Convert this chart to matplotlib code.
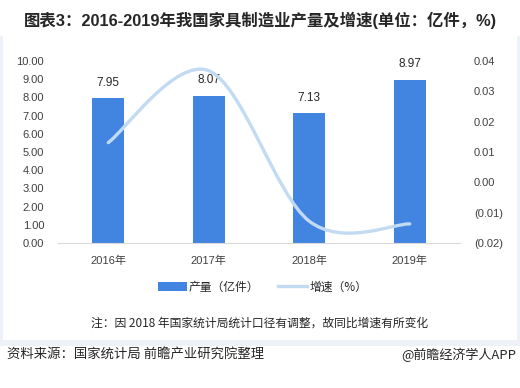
import matplotlib
matplotlib.use("Agg")
import matplotlib.pyplot as plt
from matplotlib.patches import Rectangle, Patch
from matplotlib.lines import Line2D
from matplotlib.path import Path
from matplotlib.patches import PathPatch
from matplotlib.ticker import FuncFormatter, MultipleLocator

categories = ["2016年", "2017年", "2018年", "2019年"]
output_values = [7.95, 8.07, 7.13, 8.97]
growth_values = [0.0131, 0.0368, -0.0128, -0.0137]

title = "图表3：2016-2019年我国家具制造业产量及增速(单位：亿件，%)"
legend_labels = ["产量（亿件）", "增速（%）"]
note = "注：因 2018 年国家统计局统计口径有调整，故同比增速有所变化"
source = "资料来源：国家统计局 前瞻产业研究院整理"
credit = "@前瞻经济学人APP"

BAR_COLOR = "#4285E0"
LINE_COLOR = "#C3DAF3"
FAM = ["Liberation Sans", "Noto Sans CJK SC"]
CJK = ["Noto Sans CJK SC", "DejaVu Sans"]

plt.rcParams["font.family"] = FAM

W, H = 520, 388
fig = plt.figure(figsize=(W / 100, H / 100), dpi=100)
fig.patch.set_facecolor("white")

# panel frame
fig.add_artist(Rectangle((0, 1 - 346 / H), 1, (346 - 36) / H, transform=fig.transFigure,
                         facecolor="#EDF1F8", edgecolor="none", zorder=-10))
fig.add_artist(Rectangle((3 / W, 1 - 340 / H), 514 / W, (340 - 36) / H, transform=fig.transFigure,
                         facecolor="white", edgecolor="none", zorder=-9))

ax = fig.add_axes([58 / W, 1 - 243 / H, (460 - 58) / W, (243 - 61) / H])
ax.set_facecolor("none")
x = list(range(len(categories)))
bars = ax.bar(x, output_values, width=0.32, color=BAR_COLOR, zorder=2)
ax.set_xlim(-0.5, len(categories) - 0.5)
ax.set_ylim(0, 10)
ax.yaxis.set_major_locator(MultipleLocator(1))
ax.yaxis.set_major_formatter(FuncFormatter(lambda v, p: f"{v:.2f}"))
for s in ["top", "right", "left"]:
    ax.spines[s].set_visible(False)
ax.spines["bottom"].set_color("#D9D9D9")
ax.spines["bottom"].set_linewidth(0.8)
ax.tick_params(axis="both", length=0, labelsize=8, colors="#404040")
ax.tick_params(axis="y", pad=10)
ax.tick_params(axis="x", pad=9)
ax.set_xticks(x)
ax.set_xticklabels(categories)
for lbl in ax.get_xticklabels():
    lbl.set_fontfamily(FAM)

for xi, v in zip(x, output_values):
    ax.annotate(f"{v:.2f}", (xi, v), xytext=(0, 7), textcoords="offset points",
                ha="center", va="bottom", fontsize=8.5, color="#262626")

ax2 = ax.twinx()
ax2.set_ylim(-0.02, 0.04)
ax2.yaxis.set_major_locator(MultipleLocator(0.01))
def fmt(v, p):
    if abs(v) < 1e-9:
        return "0.00"
    return f"({abs(v):.2f})" if v < 0 else f"{v:.2f}"
ax2.yaxis.set_major_formatter(FuncFormatter(fmt))
for s in ["top", "right", "left", "bottom"]:
    ax2.spines[s].set_visible(False)
ax2.tick_params(axis="y", length=0, labelsize=8, colors="#404040", pad=10)

# Excel-style smoothed line (cubic Bezier through data points)
pts = list(zip(x, growth_values))
n = len(pts)
verts = [pts[0]]
codes = [Path.MOVETO]
for i in range(n - 1):
    p0 = pts[max(i - 1, 0)]
    p1 = pts[i]
    p2 = pts[i + 1]
    p3 = pts[min(i + 2, n - 1)]
    c1 = (p1[0] + (p2[0] - p0[0]) / 6, p1[1] + (p2[1] - p0[1]) / 6)
    c2 = (p2[0] - (p3[0] - p1[0]) / 6, p2[1] - (p3[1] - p1[1]) / 6)
    verts += [c1, c2, p2]
    codes += [Path.CURVE4] * 3
path = Path(verts, codes)
ax2.add_patch(PathPatch(path, facecolor="none", edgecolor=LINE_COLOR, lw=2.4,
                        capstyle="round", joinstyle="round", zorder=3))

fig.text(0.5, 1 - 20 / H, title, ha="center", va="center", fontsize=11.8,
         fontweight="bold", color="#262626", family=FAM)

handles = [Patch(facecolor=BAR_COLOR, edgecolor="none"),
           Line2D([0], [0], color=LINE_COLOR, lw=2.4)]
leg = fig.legend(handles, legend_labels, loc="center", bbox_to_anchor=(0.505, 1 - 287 / H),
                 ncol=2, frameon=False, handlelength=2.4, handletextpad=0.2,
                 columnspacing=1.6, prop={"family": CJK, "size": 8.5})
for t in leg.get_texts():
    t.set_color("#262626")

fig.text(0.5, 1 - 323 / H, note, ha="center", va="center", fontsize=8.5,
         color="#262626", family=CJK)
fig.text(7 / W, 1 - 355 / H, source, ha="left", va="center", fontsize=9.6,
         color="#262626", family=CJK)
fig.text(516 / W, 1 - 355 / H, credit, ha="right", va="center", fontsize=9.4,
         color="#262626", family=CJK)

fig.savefig("out.png", dpi=100)
